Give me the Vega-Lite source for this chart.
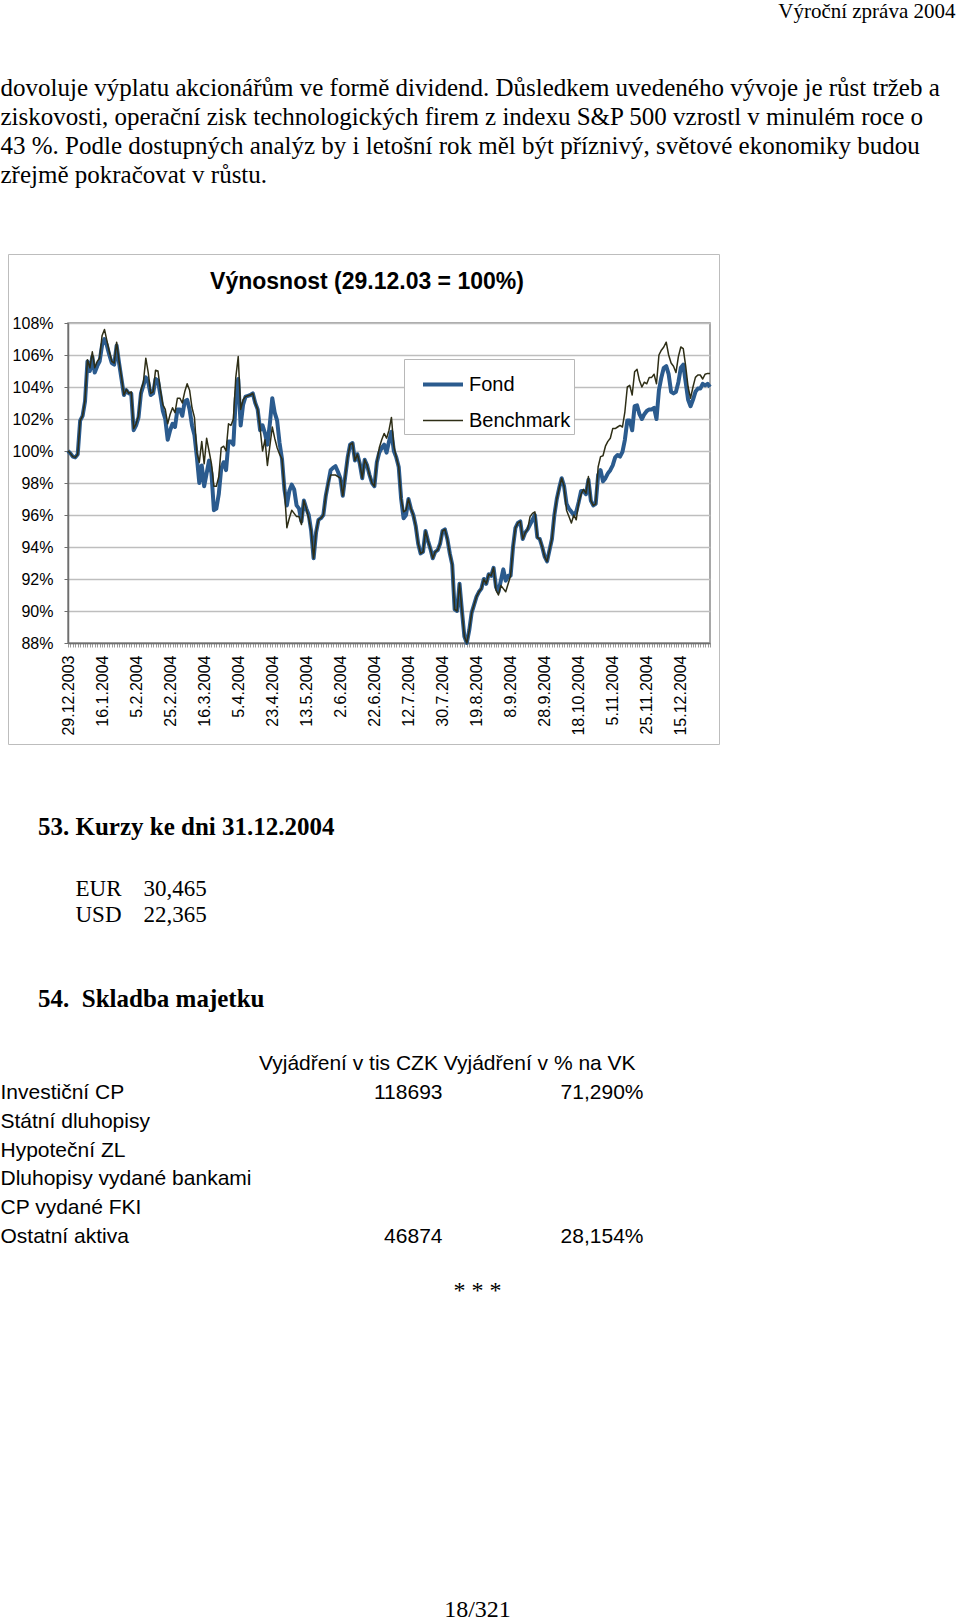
{
"$schema": "https://vega.github.io/schema/vega-lite/v6.json",
"background": "white",
"padding": 0,
"spacing": 0,
"bounds": "flush",
"config": {"view": {"stroke": null}, "font": "Liberation Sans"},
"datasets": {
"series": [
{"d":"29.12.2003","Fond":100,"Benchmark":100},
{"d":"30.12.2003","Fond":99.85,"Benchmark":99.85},
{"d":"31.12.2003","Fond":99.65,"Benchmark":99.65},
{"d":"1.1.2004","Fond":99.6,"Benchmark":99.6},
{"d":"2.1.2004","Fond":99.8,"Benchmark":99.8},
{"d":"5.1.2004","Fond":101.9,"Benchmark":101.9},
{"d":"6.1.2004","Fond":102.2,"Benchmark":102.2},
{"d":"7.1.2004","Fond":103.1,"Benchmark":103.2},
{"d":"8.1.2004","Fond":105.6,"Benchmark":105.7},
{"d":"9.1.2004","Fond":105.0,"Benchmark":105.2},
{"d":"12.1.2004","Fond":105.9,"Benchmark":106.2},
{"d":"13.1.2004","Fond":104.9,"Benchmark":105.2},
{"d":"14.1.2004","Fond":105.3,"Benchmark":105.6},
{"d":"15.1.2004","Fond":105.6,"Benchmark":105.8},
{"d":"16.1.2004","Fond":106.6,"Benchmark":107.2},
{"d":"19.1.2004","Fond":107.0,"Benchmark":107.6},
{"d":"20.1.2004","Fond":106.6,"Benchmark":106.9},
{"d":"21.1.2004","Fond":106.0,"Benchmark":106.2},
{"d":"22.1.2004","Fond":105.5,"Benchmark":105.6},
{"d":"23.1.2004","Fond":105.4,"Benchmark":105.5},
{"d":"26.1.2004","Fond":106.6,"Benchmark":106.8},
{"d":"27.1.2004","Fond":105.5,"Benchmark":105.6},
{"d":"28.1.2004","Fond":104.5,"Benchmark":104.6},
{"d":"29.1.2004","Fond":103.5,"Benchmark":103.5},
{"d":"30.1.2004","Fond":103.8,"Benchmark":103.85},
{"d":"2.2.2004","Fond":103.6,"Benchmark":103.6},
{"d":"3.2.2004","Fond":103.6,"Benchmark":103.7},
{"d":"4.2.2004","Fond":101.3,"Benchmark":101.4},
{"d":"5.2.2004","Fond":101.6,"Benchmark":101.7},
{"d":"6.2.2004","Fond":102.1,"Benchmark":102.2},
{"d":"9.2.2004","Fond":103.6,"Benchmark":103.8},
{"d":"10.2.2004","Fond":104.1,"Benchmark":104.3},
{"d":"11.2.2004","Fond":104.6,"Benchmark":105.8},
{"d":"12.2.2004","Fond":104.3,"Benchmark":104.9},
{"d":"13.2.2004","Fond":103.5,"Benchmark":103.6},
{"d":"16.2.2004","Fond":103.6,"Benchmark":103.7},
{"d":"17.2.2004","Fond":104.5,"Benchmark":105.05},
{"d":"18.2.2004","Fond":104.4,"Benchmark":105.0},
{"d":"19.2.2004","Fond":103.5,"Benchmark":103.8},
{"d":"20.2.2004","Fond":102.5,"Benchmark":102.9},
{"d":"23.2.2004","Fond":102.0,"Benchmark":102.6},
{"d":"24.2.2004","Fond":100.7,"Benchmark":101.7},
{"d":"25.2.2004","Fond":101.3,"Benchmark":102.3},
{"d":"26.2.2004","Fond":101.7,"Benchmark":102.7},
{"d":"27.2.2004","Fond":101.5,"Benchmark":102.4},
{"d":"1.3.2004","Fond":102.6,"Benchmark":103.3},
{"d":"2.3.2004","Fond":102.6,"Benchmark":103.3},
{"d":"3.3.2004","Fond":102.2,"Benchmark":103.0},
{"d":"4.3.2004","Fond":103.1,"Benchmark":103.7},
{"d":"5.3.2004","Fond":103.2,"Benchmark":104.2},
{"d":"8.3.2004","Fond":102.6,"Benchmark":103.8},
{"d":"9.3.2004","Fond":101.6,"Benchmark":102.7},
{"d":"10.3.2004","Fond":101.0,"Benchmark":102.1},
{"d":"11.3.2004","Fond":99.6,"Benchmark":99.9},
{"d":"12.3.2004","Fond":98.0,"Benchmark":99.3},
{"d":"15.3.2004","Fond":99.1,"Benchmark":100.6},
{"d":"16.3.2004","Fond":97.8,"Benchmark":99.2},
{"d":"17.3.2004","Fond":98.6,"Benchmark":100.8},
{"d":"18.3.2004","Fond":99.4,"Benchmark":100.0},
{"d":"19.3.2004","Fond":98.6,"Benchmark":99.2},
{"d":"22.3.2004","Fond":96.3,"Benchmark":97.8},
{"d":"23.3.2004","Fond":96.4,"Benchmark":97.8},
{"d":"24.3.2004","Fond":97.3,"Benchmark":98.4},
{"d":"25.3.2004","Fond":98.9,"Benchmark":100.2},
{"d":"26.3.2004","Fond":99.3,"Benchmark":100.3},
{"d":"29.3.2004","Fond":98.8,"Benchmark":100.0},
{"d":"30.3.2004","Fond":100.6,"Benchmark":101.7},
{"d":"31.3.2004","Fond":100.6,"Benchmark":101.6},
{"d":"1.4.2004","Fond":100.4,"Benchmark":102.0},
{"d":"2.4.2004","Fond":103.3,"Benchmark":104.6},
{"d":"5.4.2004","Fond":104.5,"Benchmark":105.9},
{"d":"6.4.2004","Fond":101.6,"Benchmark":102.6},
{"d":"7.4.2004","Fond":102.9,"Benchmark":103.2},
{"d":"8.4.2004","Fond":103.4,"Benchmark":103.4},
{"d":"9.4.2004","Fond":103.45,"Benchmark":103.45},
{"d":"12.4.2004","Fond":103.5,"Benchmark":103.5},
{"d":"13.4.2004","Fond":103.6,"Benchmark":103.6},
{"d":"14.4.2004","Fond":103.0,"Benchmark":103.0},
{"d":"15.4.2004","Fond":102.6,"Benchmark":102.6},
{"d":"16.4.2004","Fond":101.3,"Benchmark":101.4},
{"d":"19.4.2004","Fond":101.6,"Benchmark":100.0},
{"d":"20.4.2004","Fond":101.1,"Benchmark":100.7},
{"d":"21.4.2004","Fond":100.4,"Benchmark":99.1},
{"d":"22.4.2004","Fond":101.7,"Benchmark":100.3},
{"d":"23.4.2004","Fond":103.3,"Benchmark":101.5},
{"d":"26.4.2004","Fond":102.4,"Benchmark":100.8},
{"d":"27.4.2004","Fond":101.9,"Benchmark":100.2},
{"d":"28.4.2004","Fond":100.5,"Benchmark":99.8},
{"d":"29.4.2004","Fond":99.5,"Benchmark":99.5},
{"d":"30.4.2004","Fond":97.6,"Benchmark":97.6},
{"d":"3.5.2004","Fond":96.6,"Benchmark":95.2},
{"d":"4.5.2004","Fond":97.5,"Benchmark":95.8},
{"d":"5.5.2004","Fond":97.9,"Benchmark":96.3},
{"d":"6.5.2004","Fond":97.6,"Benchmark":96.1},
{"d":"7.5.2004","Fond":96.6,"Benchmark":95.9},
{"d":"10.5.2004","Fond":96.4,"Benchmark":95.9},
{"d":"11.5.2004","Fond":95.6,"Benchmark":95.4},
{"d":"12.5.2004","Fond":96.9,"Benchmark":96.9},
{"d":"13.5.2004","Fond":96.4,"Benchmark":96.4},
{"d":"14.5.2004","Fond":96.0,"Benchmark":95.8},
{"d":"17.5.2004","Fond":95.0,"Benchmark":95.0},
{"d":"18.5.2004","Fond":93.3,"Benchmark":93.3},
{"d":"19.5.2004","Fond":94.9,"Benchmark":94.9},
{"d":"20.5.2004","Fond":95.7,"Benchmark":95.7},
{"d":"21.5.2004","Fond":95.8,"Benchmark":95.8},
{"d":"24.5.2004","Fond":96.0,"Benchmark":96.0},
{"d":"25.5.2004","Fond":97.2,"Benchmark":97.2},
{"d":"26.5.2004","Fond":98.0,"Benchmark":98.0},
{"d":"27.5.2004","Fond":98.8,"Benchmark":98.5},
{"d":"28.5.2004","Fond":98.95,"Benchmark":98.5},
{"d":"31.5.2004","Fond":99.05,"Benchmark":98.5},
{"d":"1.6.2004","Fond":98.7,"Benchmark":98.4},
{"d":"2.6.2004","Fond":98.3,"Benchmark":98.3},
{"d":"3.6.2004","Fond":97.2,"Benchmark":97.2},
{"d":"4.6.2004","Fond":98.4,"Benchmark":98.4},
{"d":"7.6.2004","Fond":99.6,"Benchmark":99.6},
{"d":"8.6.2004","Fond":100.4,"Benchmark":100.4},
{"d":"9.6.2004","Fond":100.5,"Benchmark":100.5},
{"d":"10.6.2004","Fond":99.4,"Benchmark":99.4},
{"d":"11.6.2004","Fond":99.8,"Benchmark":99.8},
{"d":"14.6.2004","Fond":99.2,"Benchmark":99.2},
{"d":"15.6.2004","Fond":98.3,"Benchmark":98.3},
{"d":"16.6.2004","Fond":99.45,"Benchmark":99.45},
{"d":"17.6.2004","Fond":99.1,"Benchmark":99.1},
{"d":"18.6.2004","Fond":98.5,"Benchmark":98.5},
{"d":"21.6.2004","Fond":98.0,"Benchmark":98.0},
{"d":"22.6.2004","Fond":97.8,"Benchmark":97.8},
{"d":"23.6.2004","Fond":99.3,"Benchmark":99.3},
{"d":"24.6.2004","Fond":99.9,"Benchmark":100.2},
{"d":"25.6.2004","Fond":100.2,"Benchmark":100.7},
{"d":"28.6.2004","Fond":100.4,"Benchmark":101.1},
{"d":"29.6.2004","Fond":99.9,"Benchmark":100.8},
{"d":"30.6.2004","Fond":100.6,"Benchmark":101.3},
{"d":"1.7.2004","Fond":101.2,"Benchmark":102.1},
{"d":"2.7.2004","Fond":100.0,"Benchmark":100.3},
{"d":"5.7.2004","Fond":99.6,"Benchmark":99.6},
{"d":"6.7.2004","Fond":99.0,"Benchmark":99.0},
{"d":"7.7.2004","Fond":97.0,"Benchmark":97.0},
{"d":"8.7.2004","Fond":95.8,"Benchmark":96.2},
{"d":"9.7.2004","Fond":96.0,"Benchmark":96.3},
{"d":"12.7.2004","Fond":97.0,"Benchmark":97.0},
{"d":"13.7.2004","Fond":96.4,"Benchmark":96.4},
{"d":"14.7.2004","Fond":96.0,"Benchmark":96.0},
{"d":"15.7.2004","Fond":95.3,"Benchmark":95.3},
{"d":"16.7.2004","Fond":94.2,"Benchmark":94.2},
{"d":"19.7.2004","Fond":93.6,"Benchmark":93.6},
{"d":"20.7.2004","Fond":93.7,"Benchmark":93.7},
{"d":"21.7.2004","Fond":95.0,"Benchmark":95.0},
{"d":"22.7.2004","Fond":94.4,"Benchmark":94.4},
{"d":"23.7.2004","Fond":93.9,"Benchmark":93.9},
{"d":"26.7.2004","Fond":93.3,"Benchmark":93.3},
{"d":"27.7.2004","Fond":93.7,"Benchmark":93.7},
{"d":"28.7.2004","Fond":93.8,"Benchmark":93.8},
{"d":"29.7.2004","Fond":94.2,"Benchmark":94.2},
{"d":"30.7.2004","Fond":95.0,"Benchmark":95.0},
{"d":"2.8.2004","Fond":95.1,"Benchmark":95.1},
{"d":"3.8.2004","Fond":94.5,"Benchmark":94.5},
{"d":"4.8.2004","Fond":93.6,"Benchmark":93.6},
{"d":"5.8.2004","Fond":92.9,"Benchmark":92.9},
{"d":"6.8.2004","Fond":90.1,"Benchmark":90.1},
{"d":"9.8.2004","Fond":90.0,"Benchmark":90.0},
{"d":"10.8.2004","Fond":91.7,"Benchmark":91.7},
{"d":"11.8.2004","Fond":90.0,"Benchmark":90.0},
{"d":"12.8.2004","Fond":88.4,"Benchmark":88.4},
{"d":"13.8.2004","Fond":88.0,"Benchmark":88.0},
{"d":"16.8.2004","Fond":88.8,"Benchmark":88.8},
{"d":"17.8.2004","Fond":89.9,"Benchmark":89.9},
{"d":"18.8.2004","Fond":90.4,"Benchmark":90.4},
{"d":"19.8.2004","Fond":90.9,"Benchmark":90.9},
{"d":"20.8.2004","Fond":91.2,"Benchmark":91.2},
{"d":"23.8.2004","Fond":91.4,"Benchmark":91.4},
{"d":"24.8.2004","Fond":92.0,"Benchmark":92.0},
{"d":"25.8.2004","Fond":91.7,"Benchmark":91.7},
{"d":"26.8.2004","Fond":92.3,"Benchmark":92.3},
{"d":"27.8.2004","Fond":92.2,"Benchmark":92.2},
{"d":"30.8.2004","Fond":92.7,"Benchmark":92.7},
{"d":"31.8.2004","Fond":91.5,"Benchmark":91.3},
{"d":"1.9.2004","Fond":91.2,"Benchmark":91.0},
{"d":"2.9.2004","Fond":91.9,"Benchmark":91.6},
{"d":"3.9.2004","Fond":92.6,"Benchmark":91.4},
{"d":"6.9.2004","Fond":91.9,"Benchmark":91.2},
{"d":"7.9.2004","Fond":92.2,"Benchmark":91.7},
{"d":"8.9.2004","Fond":92.2,"Benchmark":92.2},
{"d":"9.9.2004","Fond":94.0,"Benchmark":94.0},
{"d":"10.9.2004","Fond":95.2,"Benchmark":95.2},
{"d":"13.9.2004","Fond":95.5,"Benchmark":95.5},
{"d":"14.9.2004","Fond":95.6,"Benchmark":95.6},
{"d":"15.9.2004","Fond":94.5,"Benchmark":94.5},
{"d":"16.9.2004","Fond":94.9,"Benchmark":94.9},
{"d":"17.9.2004","Fond":95.1,"Benchmark":95.1},
{"d":"20.9.2004","Fond":95.4,"Benchmark":95.9},
{"d":"21.9.2004","Fond":95.7,"Benchmark":96.1},
{"d":"22.9.2004","Fond":96.0,"Benchmark":96.2},
{"d":"23.9.2004","Fond":94.6,"Benchmark":94.6},
{"d":"24.9.2004","Fond":94.5,"Benchmark":94.5},
{"d":"27.9.2004","Fond":94.0,"Benchmark":94.0},
{"d":"28.9.2004","Fond":93.4,"Benchmark":93.4},
{"d":"29.9.2004","Fond":93.1,"Benchmark":93.1},
{"d":"30.9.2004","Fond":93.8,"Benchmark":93.8},
{"d":"1.10.2004","Fond":94.5,"Benchmark":94.5},
{"d":"4.10.2004","Fond":96.0,"Benchmark":96.0},
{"d":"5.10.2004","Fond":97.0,"Benchmark":97.0},
{"d":"6.10.2004","Fond":97.7,"Benchmark":97.7},
{"d":"7.10.2004","Fond":98.3,"Benchmark":98.3},
{"d":"8.10.2004","Fond":97.8,"Benchmark":97.8},
{"d":"11.10.2004","Fond":96.7,"Benchmark":96.3},
{"d":"12.10.2004","Fond":96.4,"Benchmark":95.9},
{"d":"13.10.2004","Fond":96.2,"Benchmark":95.5},
{"d":"14.10.2004","Fond":96.0,"Benchmark":96.0},
{"d":"15.10.2004","Fond":96.2,"Benchmark":95.7},
{"d":"18.10.2004","Fond":96.8,"Benchmark":96.8},
{"d":"19.10.2004","Fond":97.5,"Benchmark":97.3},
{"d":"20.10.2004","Fond":97.5,"Benchmark":97.6},
{"d":"21.10.2004","Fond":97.3,"Benchmark":97.35},
{"d":"22.10.2004","Fond":98.2,"Benchmark":98.4},
{"d":"25.10.2004","Fond":96.9,"Benchmark":96.9},
{"d":"26.10.2004","Fond":96.6,"Benchmark":96.6},
{"d":"27.10.2004","Fond":96.7,"Benchmark":96.7},
{"d":"28.10.2004","Fond":98.5,"Benchmark":99.0},
{"d":"29.10.2004","Fond":98.8,"Benchmark":99.65},
{"d":"1.11.2004","Fond":98.1,"Benchmark":99.7},
{"d":"2.11.2004","Fond":98.3,"Benchmark":100.3},
{"d":"3.11.2004","Fond":98.6,"Benchmark":100.6},
{"d":"4.11.2004","Fond":98.8,"Benchmark":100.8},
{"d":"5.11.2004","Fond":99.1,"Benchmark":101.4},
{"d":"8.11.2004","Fond":99.6,"Benchmark":101.4},
{"d":"9.11.2004","Fond":99.75,"Benchmark":101.5},
{"d":"10.11.2004","Fond":99.65,"Benchmark":101.6},
{"d":"11.11.2004","Fond":99.95,"Benchmark":101.5},
{"d":"12.11.2004","Fond":100.7,"Benchmark":102.45},
{"d":"15.11.2004","Fond":101.9,"Benchmark":104.0},
{"d":"16.11.2004","Fond":101.9,"Benchmark":104.1},
{"d":"17.11.2004","Fond":101.3,"Benchmark":103.5},
{"d":"18.11.2004","Fond":102.8,"Benchmark":104.95},
{"d":"19.11.2004","Fond":102.85,"Benchmark":105.1},
{"d":"22.11.2004","Fond":102.3,"Benchmark":104.4},
{"d":"23.11.2004","Fond":102.0,"Benchmark":104.0},
{"d":"24.11.2004","Fond":102.3,"Benchmark":104.3},
{"d":"25.11.2004","Fond":102.5,"Benchmark":104.2},
{"d":"26.11.2004","Fond":102.6,"Benchmark":104.6},
{"d":"29.11.2004","Fond":102.6,"Benchmark":104.6},
{"d":"30.11.2004","Fond":102.7,"Benchmark":104.8},
{"d":"1.12.2004","Fond":102.0,"Benchmark":104.2},
{"d":"2.12.2004","Fond":103.8,"Benchmark":106.0},
{"d":"3.12.2004","Fond":104.6,"Benchmark":106.3},
{"d":"6.12.2004","Fond":105.2,"Benchmark":106.5},
{"d":"7.12.2004","Fond":105.3,"Benchmark":106.8},
{"d":"8.12.2004","Fond":104.8,"Benchmark":106.0},
{"d":"9.12.2004","Fond":103.7,"Benchmark":105.5},
{"d":"10.12.2004","Fond":103.6,"Benchmark":105.3},
{"d":"13.12.2004","Fond":103.7,"Benchmark":104.9},
{"d":"14.12.2004","Fond":104.3,"Benchmark":105.9},
{"d":"15.12.2004","Fond":105.2,"Benchmark":106.5},
{"d":"16.12.2004","Fond":105.4,"Benchmark":106.4},
{"d":"17.12.2004","Fond":104.3,"Benchmark":105.3},
{"d":"20.12.2004","Fond":103.2,"Benchmark":104.0},
{"d":"21.12.2004","Fond":102.8,"Benchmark":103.3},
{"d":"22.12.2004","Fond":103.2,"Benchmark":104.0},
{"d":"23.12.2004","Fond":103.7,"Benchmark":104.6},
{"d":"24.12.2004","Fond":103.9,"Benchmark":104.75},
{"d":"27.12.2004","Fond":103.9,"Benchmark":104.75},
{"d":"28.12.2004","Fond":104.2,"Benchmark":104.5},
{"d":"29.12.2004","Fond":104.1,"Benchmark":104.8},
{"d":"30.12.2004","Fond":104.2,"Benchmark":104.85},
{"d":"31.12.2004","Fond":104.0,"Benchmark":104.85}
],
"table": [
{"r":"Investiční CP","czk":"118693","pct":"71,290%"},
{"r":"Státní dluhopisy","czk":"","pct":""},
{"r":"Hypoteční ZL","czk":"","pct":""},
{"r":"Dluhopisy vydané bankami","czk":"","pct":""},
{"r":"CP vydané FKI","czk":"","pct":""},
{"r":"Ostatní aktiva","czk":"46874","pct":"28,154%"}
],
"kurzy": [
{"k":"EUR","v":"30,465"},
{"k":"USD","v":"22,365"}
]
},
"vconcat": [
{"hconcat": [
 {"width": 954.5, "height": 24, "data": {"values": []}, "mark": "text"},
 {"width": 1, "height": 24, "data": {"values": [{"t": "Výroční zpráva 2004"}]},
  "mark": {"type": "text", "align": "right", "baseline": "middle", "font": "Liberation Serif", "fontSize": 21, "color": "black"},
  "encoding": {"text": {"field": "t"}}}
 ], "spacing": 0, "bounds": "flush"},
{"width": 1, "height": 73.5, "data": {"values": []}, "mark": "text"},
{"width": 1, "height": 115.4,
 "data": {"values": [
  {"n": "1", "t": "dovoluje výplatu akcionářům ve formě dividend. Důsledkem uvedeného vývoje je růst tržeb a"},
  {"n": "2", "t": "ziskovosti, operační zisk technologických firem z indexu S&P 500 vzrostl v minulém roce o"},
  {"n": "3", "t": "43 %. Podle dostupných analýz by i letošní rok měl být příznivý, světové ekonomiky budou"},
  {"n": "4", "t": "zřejmě pokračovat v růstu."}
 ]},
 "mark": {"type": "text", "align": "left", "baseline": "middle", "font": "Liberation Serif", "fontSize": 25, "color": "black"},
 "encoding": {
  "y": {"field": "n", "type": "ordinal", "axis": null, "scale": {"type": "point", "padding": 0.5}},
  "text": {"field": "t"}
 }},
{"width": 1, "height": 64, "data": {"values": []}, "mark": "text"},
{"hconcat": [
 {"width": 7.5, "height": 490, "data": {"values": []}, "mark": "text"},
 {"width": 711, "height": 490, "view": {"stroke": "#BDBDBD", "strokeWidth": 1}, "data": {"values": []}, "mark": "text"}
 ], "spacing": 0, "bounds": "flush"},
{"width": 1, "height": 69, "data": {"values": []}, "mark": "text"},
{"hconcat": [
 {"width": 68, "height": 320, "data": {"values": []}, "mark": "text"},
 {"width": 642, "height": 320,
  "view": {"stroke": "#8C8C8C", "strokeWidth": 1.5},
  "title": {"text": "Výnosnost (29.12.03 = 100%)", "font": "Liberation Sans", "fontSize": 23, "fontWeight": "bold", "color": "black", "anchor": "middle", "dx": -22, "offset": 21},
  "data": {"name": "series"},
  "encoding": {
   "x": {"field": "d", "type": "ordinal", "sort": null,
    "scale": {"type": "point", "padding": 0},
    "axis": {"title": null, "labelAngle": 270, "labelAlign": "right", "labelBaseline": "middle",
     "labelFont": "Liberation Sans", "labelFontSize": 16, "labelColor": "black", "labelPadding": 8,
     "labelOverlap": false, "labelBound": false, "labelFlush": false,
     "tickSize": 4, "tickColor": "#9A9A9A", "tickWidth": 1,
     "domainColor": "#6E6E6E", "domainWidth": 1.5, "grid": false,
     "labelExpr": "indexof(['29.12.2003','16.1.2004','5.2.2004','25.2.2004','16.3.2004','5.4.2004','23.4.2004','13.5.2004','2.6.2004','22.6.2004','12.7.2004','30.7.2004','19.8.2004','8.9.2004','28.9.2004','18.10.2004','5.11.2004','25.11.2004','15.12.2004'], datum.value) >= 0 ? datum.value : ''"}}
  },
  "layer": [
   {"mark": {"type": "line", "strokeJoin": "round"},
    "encoding": {
     "y": {"field": "Fond", "type": "quantitative",
      "scale": {"domain": [88, 108], "nice": false, "zero": false},
      "axis": {"title": null, "values": [88,90,92,94,96,98,100,102,104,106,108], "labelExpr": "datum.value + '%'",
       "labelFont": "Liberation Sans", "labelFontSize": 16, "labelColor": "black", "labelPadding": 11,
       "tickSize": 4, "tickColor": "#6E6E6E", "domainColor": "#6E6E6E", "domainWidth": 1.5,
       "grid": true, "gridColor": "#BEBEBE", "gridWidth": 1.3}},
     "color": {"datum": "Fond", "type": "nominal",
      "scale": {"domain": ["Fond", "Benchmark"], "range": ["#2B5B8E", "#2E2E16"]},
      "legend": {"title": null, "orient": "none", "legendX": 404, "legendY": 359,
       "labelFont": "Liberation Sans", "labelFontSize": 20, "labelColor": "black",
       "symbolType": "stroke", "symbolSize": 1600, "padding": 3.5, "rowPadding": 5, "labelOffset": 4, "symbolOffset": 13.5,
       "strokeColor": "#B8B8B8", "fillColor": "white"}},
     "strokeWidth": {"datum": "Fond", "type": "nominal",
      "scale": {"domain": ["Fond", "Benchmark"], "range": [4, 1.5]},
      "legend": {"title": null, "orient": "none", "legendX": 404, "legendY": 359,
       "labelFont": "Liberation Sans", "labelFontSize": 20, "labelColor": "black",
       "symbolType": "stroke", "symbolSize": 1600, "padding": 3.5, "rowPadding": 5, "labelOffset": 4, "symbolOffset": 13.5,
       "strokeColor": "#B8B8B8", "fillColor": "white"}}
    }},
   {"mark": {"type": "line", "strokeJoin": "round"},
    "encoding": {
     "y": {"field": "Benchmark", "type": "quantitative",
      "scale": {"domain": [88, 108], "nice": false, "zero": false},
      "axis": {"title": null, "values": [88,90,92,94,96,98,100,102,104,106,108], "labelExpr": "datum.value + '%'",
       "labelFont": "Liberation Sans", "labelFontSize": 16, "labelColor": "black", "labelPadding": 11,
       "tickSize": 4, "tickColor": "#6E6E6E", "domainColor": "#6E6E6E", "domainWidth": 1.5,
       "grid": true, "gridColor": "#BEBEBE", "gridWidth": 1.3}},
     "color": {"datum": "Benchmark", "type": "nominal"},
     "strokeWidth": {"datum": "Benchmark", "type": "nominal"}
    }}
  ]}
 ], "spacing": 0, "bounds": "flush"},
{"width": 1, "height": 489, "data": {"values": []}, "mark": "text"},
{"width": 76, "height": 30, "data": {"values": [{"t": "53. Kurzy ke dni 31.12.2004"}]},
 "mark": {"type": "text", "align": "left", "baseline": "middle", "font": "Liberation Serif", "fontWeight": "bold", "fontSize": 25, "color": "black"},
 "encoding": {"text": {"field": "t"}}},
{"width": 1, "height": 34, "data": {"values": []}, "mark": "text"},
{"hconcat": [
 {"width": 74.5, "height": 52, "data": {"values": []}, "mark": "text"},
 {"width": 1, "height": 52, "data": {"name": "kurzy"},
  "mark": {"type": "text", "align": "left", "baseline": "middle", "font": "Liberation Serif", "fontSize": 23, "color": "black"},
  "encoding": {"y": {"field": "k", "type": "ordinal", "sort": null, "axis": null, "scale": {"type": "point", "padding": 0.5}}, "text": {"field": "k"}}},
 {"width": 67, "height": 52, "data": {"values": []}, "mark": "text"},
 {"width": 1, "height": 52, "data": {"name": "kurzy"},
  "mark": {"type": "text", "align": "left", "baseline": "middle", "font": "Liberation Serif", "fontSize": 23, "color": "black"},
  "encoding": {"y": {"field": "k", "type": "ordinal", "sort": null, "axis": null, "scale": {"type": "point", "padding": 0.5}}, "text": {"field": "v"}}}
 ], "spacing": 0, "bounds": "flush"},
{"width": 1, "height": 108, "data": {"values": []}, "mark": "text"},
{"width": 76, "height": 30, "data": {"values": [{"t": "54.\u00a0 Skladba majetku"}]},
 "mark": {"type": "text", "align": "left", "baseline": "middle", "font": "Liberation Serif", "fontWeight": "bold", "fontSize": 25, "color": "black"},
 "encoding": {"text": {"field": "t"}}},
{"width": 1, "height": 35.7, "data": {"values": []}, "mark": "text"},
{"width": 518, "height": 28.67, "data": {"values": [{"t": "Vyjádření v tis CZK Vyjádření v % na VK"}]},
 "mark": {"type": "text", "align": "left", "baseline": "middle", "font": "Liberation Sans", "fontSize": 21, "color": "black"},
 "encoding": {"text": {"field": "t"}}},
{"hconcat": [
 {"width": 1, "height": 172, "data": {"name": "table"},
  "mark": {"type": "text", "align": "left", "baseline": "middle", "font": "Liberation Sans", "fontSize": 21, "color": "black"},
  "encoding": {"y": {"field": "r", "type": "ordinal", "sort": null, "axis": null, "scale": {"type": "point", "padding": 0.5}}, "text": {"field": "r"}}},
 {"width": 440.5, "height": 172, "data": {"values": []}, "mark": "text"},
 {"width": 1, "height": 172, "data": {"name": "table"},
  "mark": {"type": "text", "align": "right", "baseline": "middle", "font": "Liberation Sans", "fontSize": 21, "color": "black"},
  "encoding": {"y": {"field": "r", "type": "ordinal", "sort": null, "axis": null, "scale": {"type": "point", "padding": 0.5}}, "text": {"field": "czk"}}},
 {"width": 200, "height": 172, "data": {"values": []}, "mark": "text"},
 {"width": 1, "height": 172, "data": {"name": "table"},
  "mark": {"type": "text", "align": "right", "baseline": "middle", "font": "Liberation Sans", "fontSize": 21, "color": "black"},
  "encoding": {"y": {"field": "r", "type": "ordinal", "sort": null, "axis": null, "scale": {"type": "point", "padding": 0.5}}, "text": {"field": "pct"}}}
 ], "spacing": 0, "bounds": "flush"},
{"width": 1, "height": 172, "data": {"values": []}, "mark": "text"},
{"width": 955, "height": 79.4, "data": {"values": [{"t": "* * *"}]},
 "mark": {"type": "text", "align": "center", "baseline": "middle", "font": "Liberation Serif", "fontSize": 24, "color": "black"},
 "encoding": {"text": {"field": "t"}}},
{"width": 1, "height": 265.3, "data": {"values": []}, "mark": "text"},
{"width": 955, "height": 26, "data": {"values": [{"t": "18/321"}]},
 "mark": {"type": "text", "align": "center", "baseline": "middle", "font": "Liberation Serif", "fontSize": 24, "color": "black"},
 "encoding": {"text": {"field": "t"}}}
]
}
